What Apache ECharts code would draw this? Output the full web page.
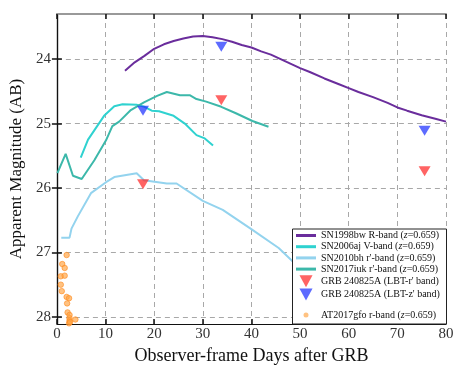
<!DOCTYPE html>
<html>
<head>
<meta charset="utf-8">
<script src="https://cdn.jsdelivr.net/npm/echarts@6/dist/echarts.min.js"></script>
<style>
  html, body { margin: 0; padding: 0; background: #fff; }
  #chart { width: 468px; height: 375px; }
</style>
</head>
<body>
<div id="chart"></div>
<script>
// light curves: [observer-frame day, apparent magnitude]
const sn1998bw = [[14,24.18],[16,24.05],[18,23.95],[20,23.84],[22,23.77],[24,23.72],[26,23.68],[28,23.65],[30,23.64],
  [32,23.66],[34,23.69],[36,23.73],[38,23.78],[40,23.82],[42,23.88],[44,23.93],[46,24.0],[48,24.07],[50,24.14],
  [52,24.2],[55,24.3],[58,24.39],[60,24.45],[62,24.51],[65,24.59],[68,24.68],[70,24.75],[72,24.8],[75,24.87],
  [78,24.93],[80,24.97]]
const sn2006aj = [[4.9,25.53],[6.4,25.25],[8,25.07],[9.7,24.88],[11.8,24.73],[13.5,24.7],[16.5,24.71],[18,24.74],
  [19.5,24.8],[21,24.81],[24,24.88],[26.3,25.0],[28.7,25.18],[30.4,25.23],[32.1,25.34]]
const sn2010bh = [[0.9,26.77],[2.6,26.77],[3.0,26.63],[4.3,26.44],[7.0,26.08],[10.1,25.91],[11.8,25.83],[16.4,25.77],
  [17.9,25.88],[22.6,25.93],[24.6,25.93],[30.0,26.2],[34.1,26.34],[40.2,26.65],[45.6,26.93],[50,27.25]]
const sn2017iuk = [[0.1,25.77],[1.8,25.47],[3.3,25.81],[5.1,25.86],[7.7,25.57],[10.1,25.26],[11.4,25.04],[12.8,24.97],
  [15.2,24.79],[17.9,24.67],[20.6,24.57],[22.6,24.51],[25.3,24.56],[27.3,24.56],[28.7,24.62],[30.7,24.66],
  [33.8,24.74],[36.8,24.84],[40.2,24.96],[43.5,25.05]]
const grbR = [[17.7,25.94],[33.8,24.64],[75.6,25.74]]
const grbZ = [[17.7,24.8],[33.8,23.81],[75.6,25.11]]
const at2017gfo = [[2.0,27.04],[1.1,27.18],[1.6,27.24],[0.8,27.37],[1.6,27.36],[0.8,27.5],[1.0,27.6],[2.0,27.69],
  [2.5,27.71],[2.1,27.79],[2.2,27.93],[2.6,27.97],[2.6,28.02],[2.6,28.06],[2.5,28.1],[3.8,28.04],[2.7,28.08],
  [2.5,28.14],[2.6,28.18]]

const magTicks = [24, 25, 26, 27, 28]
const dayTicks = [0, 10, 20, 30, 40, 50, 60, 70, 80]

const font = 'Liberation Serif'
const chart = echarts.init(document.getElementById('chart'))

const grid = { left: 52, right: 22, top: 14, bottom: 51 }
const dash = { color: '#a8a8a8', width: 1, type: [5, 4] }

const colors = {
  bw: '#6a2d9c', aj: '#2fd2d0', bh: '#93d3ee', iuk: '#3cb8aa',
  r: 'rgba(255,40,40,0.9)', z: 'rgba(30,50,255,0.9)', gfo: 'rgba(255,165,70,0.85)'
}
const lineIcon = 'path://M0,0L20,0L20,3L0,3Z'
const triIcon = 'path://M0,0L12,0L6,11Z'

function lineSeries(name, data, color) {
  return { name, type: 'line', data, symbol: 'none', lineStyle: { color, width: 2 }, itemStyle: { color }, z: 2 }
}

const legendText = {
  fontFamily: font, fontSize: 10, color: '#111',
  rich: { i: { fontFamily: font, fontSize: 10, fontStyle: 'italic', color: '#111' } }
}
const fmt = n => n.replace('z=', '{i|z}=')

const option = {
  animation: false,
  grid,
  textStyle: { fontFamily: font },
  xAxis: [{
    type: 'value', min: dayTicks[0], max: dayTicks[dayTicks.length - 1], interval: 10,
    name: 'Observer-frame Days after GRB', nameLocation: 'middle', nameGap: 19,
    nameTextStyle: { fontFamily: font, fontSize: 18, color: '#111' },
    axisLine: { lineStyle: { color: '#111', width: 1.2 } },
    axisTick: { inside: true, length: 5, lineStyle: { color: '#111', width: 1.5 } },
    axisLabel: { fontFamily: font, fontSize: 15, color: '#333', margin: 3 },
    splitLine: { show: true, lineStyle: dash }
  }, {
    type: 'value', position: 'top', min: 0, max: 80, interval: 10,
    axisLine: { lineStyle: { color: '#999', width: 2 } },
    axisTick: { inside: true, length: 5, lineStyle: { color: '#111', width: 1.5 } },
    axisLabel: { show: false }, splitLine: { show: false }
  }],
  yAxis: [{
    type: 'value', inverse: true, min: 23.3, max: 28.11,
    name: 'Apparent Magnitude (AB)', nameLocation: 'middle', nameGap: 23,
    nameTextStyle: { fontFamily: font, fontSize: 17, color: '#111' },
    axisLine: { lineStyle: { color: '#111', width: 1.2 } },
    axisTick: { inside: true, length: 5, customValues: magTicks, lineStyle: { color: '#111', width: 1.5 } },
    axisLabel: { fontFamily: font, fontSize: 15, color: '#333', margin: 6, customValues: magTicks },
    splitLine: { show: true, lineStyle: dash }
  }, {
    type: 'value', position: 'right', inverse: true, min: 23.3, max: 28.11,
    axisLine: { show: true, lineStyle: { color: '#111', width: 1.2 } },
    axisTick: { show: true, inside: true, length: 5, customValues: magTicks, lineStyle: { color: '#111', width: 1.5 } },
    axisLabel: { show: false }, splitLine: { show: false }
  }],
  legend: [{
    orient: 'vertical', left: 296, top: 230.5, padding: 0,
    itemWidth: 20, itemHeight: 12, itemGap: 1.2,
    data: [
      { name: 'SN1998bw R-band (z=0.659)', icon: lineIcon },
      { name: 'SN2006aj V-band (z=0.659)', icon: lineIcon },
      { name: 'SN2010bh r\'-band (z=0.659)', icon: lineIcon },
      { name: 'SN2017iuk r\'-band (z=0.659)', icon: lineIcon },
      { name: 'GRB 240825A (LBT-r\' band)', icon: triIcon },
      { name: 'GRB 240825A (LBT-z\' band)', icon: triIcon }
    ],
    formatter: fmt,
    textStyle: legendText
  }, {
    // circle icon is narrower than itemWidth, so the box is shifted to keep text aligned
    orient: 'vertical', left: 303.5, top: 310, padding: 0,
    itemWidth: 20, itemHeight: 5,
    data: [{ name: 'AT2017gfo r-band (z=0.659)', icon: 'circle', itemStyle: { borderWidth: 0 } }],
    formatter: fmt,
    textStyle: legendText
  }],
  graphic: [{
    type: 'rect', z: 3,
    shape: { x: 292.5, y: 229, width: 154, height: 95 },
    style: { fill: '#fff', stroke: '#222', lineWidth: 1 }
  }],
  series: [
    lineSeries('SN1998bw R-band (z=0.659)', sn1998bw, colors.bw),
    lineSeries('SN2006aj V-band (z=0.659)', sn2006aj, colors.aj),
    lineSeries('SN2010bh r\'-band (z=0.659)', sn2010bh, colors.bh),
    lineSeries('SN2017iuk r\'-band (z=0.659)', sn2017iuk, colors.iuk),
    {
      name: 'GRB 240825A (LBT-r\' band)', type: 'scatter', data: grbR,
      symbol: 'triangle', symbolRotate: 180, symbolSize: [12, 10],
      itemStyle: { color: colors.r }, z: 4
    },
    {
      name: 'GRB 240825A (LBT-z\' band)', type: 'scatter', data: grbZ,
      symbol: 'triangle', symbolRotate: 180, symbolSize: [12, 10],
      itemStyle: { color: colors.z }, z: 4
    },
    {
      name: 'AT2017gfo r-band (z=0.659)', type: 'scatter', data: at2017gfo,
      symbolSize: 5.5,
      itemStyle: { color: colors.gfo, borderColor: '#ff8a20', borderWidth: 0.8 }, z: 4
    }
  ]
}

chart.setOption(option)
</script>
</body>
</html>
